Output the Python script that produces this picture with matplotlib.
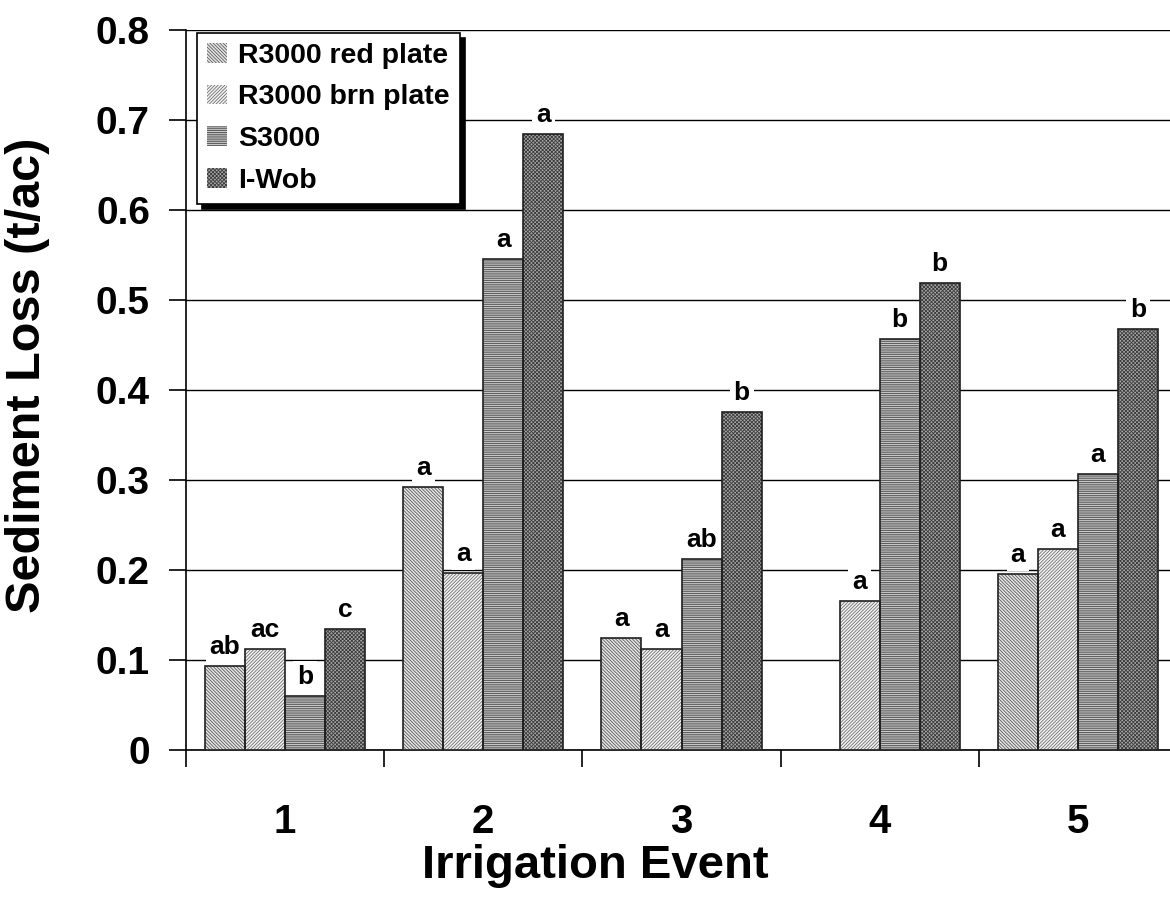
import matplotlib
matplotlib.use("Agg")
import matplotlib.pyplot as plt
import numpy as np

plt.rcParams['font.family'] = ['Liberation Sans', 'DejaVu Sans']
plt.rcParams['font.weight'] = 'bold'
plt.rcParams['hatch.linewidth'] = 0.6

events = ['1', '2', '3', '4', '5']
series = ['R3000 red plate', 'R3000 brn plate', 'S3000', 'I-Wob']

red_plate = [0.093, 0.292, 0.125, np.nan, 0.196]
brn_plate = [0.112, 0.197, 0.112, 0.166, 0.223]
s3000 = [0.060, 0.546, 0.212, 0.457, 0.307]
iwob = [0.134, 0.684, 0.376, 0.519, 0.468]

red_lbl = ['ab', 'a', 'a', '', 'a']
brn_lbl = ['ac', 'a', 'a', 'a', 'a']
s3000_lbl = ['b', 'a', 'ab', 'b', 'a']
iwob_lbl = ['c', 'a', 'b', 'b', 'b']

values = [red_plate, brn_plate, s3000, iwob]
letters = [red_lbl, brn_lbl, s3000_lbl, iwob_lbl]

# fill colour, hatch colour, hatch pattern for each series
styles = [
    ('#e6e6e6', '#5a5a5a', '\\' * 10),
    ('#f4f4f4', '#6e6e6e', '/' * 10),
    ('#cdcdcd', '#4a4a4a', '-' * 9),
    ('#a8a8a8', '#3c3c3c', 'x' * 9),
]

fig = plt.figure(figsize=(11.7, 9.02), dpi=100)
ax = fig.add_axes([186 / 1170, 1 - 750 / 902, 991 / 1170, 720 / 902])

x = np.arange(1, len(events) + 1)
width = 0.202
offsets = [-1.5 * width, -0.5 * width, 0.5 * width, 1.5 * width]

handles = []
for vals, lbls, (fc, hc, hatch), off, name in zip(values, letters, styles, offsets, series):
    vals = np.array(vals, dtype=float)
    b = ax.bar(x + off, vals, width, color=fc, edgecolor=hc, hatch=hatch,
               linewidth=0, zorder=3, label=name)
    ax.bar(x + off, vals, width, fill=False, edgecolor='#202020',
           linewidth=1.2, zorder=4)
    handles.append(b)
    for xi, v, t in zip(x + off, vals, lbls):
        if t and not np.isnan(v):
            ax.annotate(t, (xi, v), xytext=(0, 5), textcoords='offset points',
                        ha='center', va='bottom', fontsize=19, fontweight='bold',
                        bbox=dict(boxstyle='square,pad=0.15', fc='white', ec='none'),
                        zorder=5)

ax.set_xlim(0.5, 5.5)
ax.set_ylim(0, 0.8)
ax.set_yticks(np.arange(0, 0.81, 0.1))
ax.set_yticklabels(['0', '0.1', '0.2', '0.3', '0.4', '0.5', '0.6', '0.7', '0.8'])
ax.yaxis.grid(True, color='black', linewidth=1.0, zorder=0)
ax.set_axisbelow(True)

ax.set_xticks(x)
ax.set_xticklabels(events)
ax.set_xticks(np.arange(0.5, 5.6, 1.0), minor=True)
ax.tick_params(axis='x', which='major', length=0, pad=38, labelsize=29)
ax.tick_params(axis='x', which='minor', length=12, width=1.2, direction='out')
ax.tick_params(axis='y', length=12, width=1.2, direction='out', pad=14, labelsize=28)

for sp in ['top', 'right']:
    ax.spines[sp].set_visible(False)
for sp in ['left', 'bottom']:
    ax.spines[sp].set_linewidth(1.2)

ax.set_xlabel('Irrigation Event', fontsize=34, fontweight='bold')
ax.xaxis.set_label_coords(0.413, -0.13)
ax.set_ylabel('Sediment Loss (t/ac)', fontsize=35, fontweight='bold')
ax.yaxis.set_label_coords(-0.137, 0.52)

leg = ax.legend(handles=handles, loc='upper left', bbox_to_anchor=(0.008, 1.0),
                fontsize=20.5, frameon=True, fancybox=False,
                shadow={'color': 'black', 'alpha': 1.0, 'ox': 4, 'oy': -4},
                handlelength=0.7, handleheight=0.7, handletextpad=0.4,
                borderpad=0.35, labelspacing=0.55, borderaxespad=0.1)
leg.get_frame().set_edgecolor('black')
leg.get_frame().set_linewidth(1.2)
for t in leg.get_texts():
    t.set_fontweight('bold')

fig.savefig('out.png', dpi=100)
